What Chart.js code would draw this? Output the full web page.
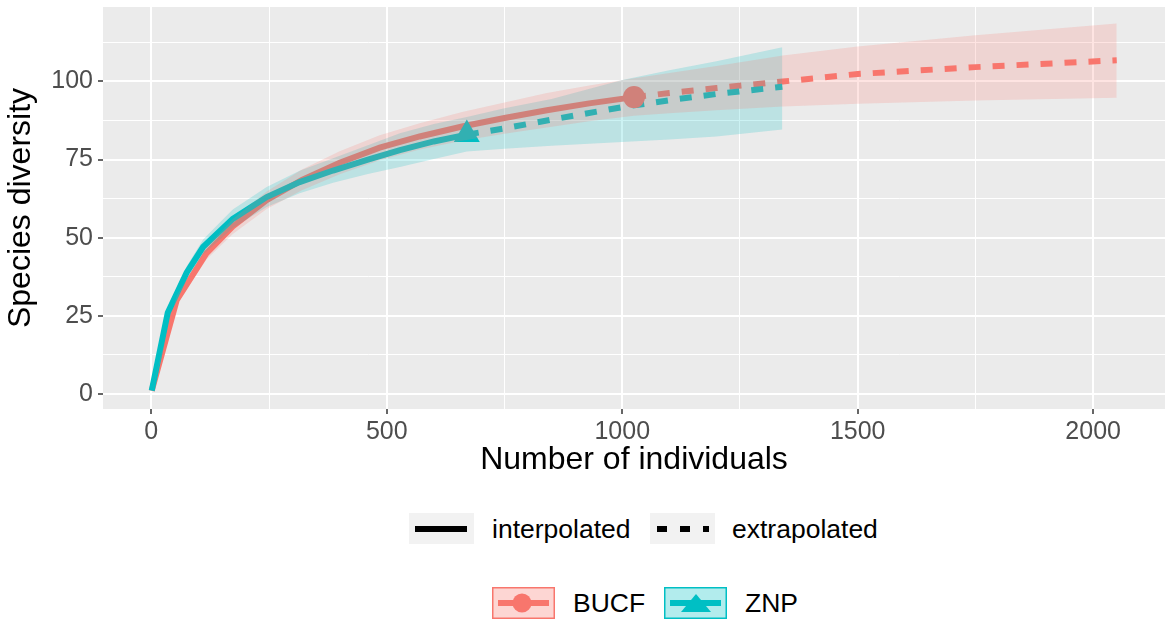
<!DOCTYPE html>
<html>
<head>
<meta charset="utf-8">
<script src="https://cdn.jsdelivr.net/npm/chart.js@4.4.1/dist/chart.umd.min.js"></script>
<style>
  body { margin: 0; background: #fff; font-family: "Liberation Sans", Arial, sans-serif; }
  #wrap { position: relative; width: 1167px; height: 622px; }
  #chart { position: absolute; left: 0; top: 0; }
  .key { position: absolute; box-sizing: border-box; }
  .lab { position: absolute; font-size: 26.5px; color: #000; line-height: 30px; white-space: nowrap; }
</style>
</head>
<body>
<div id="wrap">
  <canvas id="chart" width="1167" height="483"></canvas>

  <svg class="key" style="left:409px;top:513px" width="65" height="31">
    <rect x="0" y="0" width="65" height="31" fill="#f2f2f2"/>
    <line x1="6" y1="16" x2="58" y2="16" stroke="#000" stroke-width="6"/>
  </svg>
  <div class="lab" style="left:492px;top:514px">interpolated</div>
  <svg class="key" style="left:650px;top:513px" width="65" height="31">
    <rect x="0" y="0" width="65" height="31" fill="#f2f2f2"/>
    <line x1="7" y1="16" x2="59" y2="16" stroke="#000" stroke-width="6" stroke-dasharray="10 13"/>
  </svg>
  <div class="lab" style="left:732px;top:514px">extrapolated</div>

  <svg class="key" style="left:492px;top:587px" width="63" height="32">
    <rect x="0.75" y="0.75" width="61.5" height="30.5" fill="rgba(248,118,109,0.3)" stroke="#F8766D" stroke-width="1.5"/>
    <line x1="6" y1="16" x2="57" y2="16" stroke="#F8766D" stroke-width="6"/>
    <circle cx="30" cy="16" r="9.5" fill="#F8766D"/>
  </svg>
  <div class="lab" style="left:573px;top:588px">BUCF</div>
  <svg class="key" style="left:664px;top:587px" width="63" height="32">
    <rect x="0.75" y="0.75" width="61.5" height="30.5" fill="rgba(0,191,196,0.3)" stroke="#00BFC4" stroke-width="1.5"/>
    <line x1="6" y1="16" x2="57" y2="16" stroke="#00BFC4" stroke-width="6"/>
    <polygon points="32,7 47,25 17,25" fill="#00BFC4"/>
  </svg>
  <div class="lab" style="left:745px;top:588px">ZNP</div>
</div>

<script>
// BUCF – rarefaction (interpolated) and extrapolation
const bucfInterpX = [1, 54, 117, 173, 245, 320, 400, 485, 570, 660, 750, 840, 930, 1025];
const bucfInterpY = [1, 30, 45, 53.6, 62, 68.5, 74, 78.8, 82.4, 85.6, 88.3, 90.8, 93, 95];
const bucfExtrapX = [1025, 1100, 1200, 1341, 1500, 1750, 2050];
const bucfExtrapY = [95, 96.3, 97.9, 100, 102.4, 104.6, 106.8];
const bucfBandX = [1, 54, 117, 173, 245, 320, 400, 485, 570, 660, 750, 840, 930, 1025, 1100, 1200, 1341, 1500, 1750, 2050];
const bucfLower = [1, 28.6, 43, 51.2, 59.2, 65.2, 70.3, 74.8, 78.2, 81, 83.3, 85.3, 87.3, 89, 89.8, 90.8, 92, 92.9, 93.9, 94.8];
const bucfUpper = [1, 31.4, 47, 56, 64.8, 71.8, 77.7, 82.8, 86.6, 90.2, 93.3, 96.3, 98.7, 101, 102.7, 105, 108.3, 111.2, 114.8, 118.6];
const bucfObs = [1025, 95];

// ZNP
const znpInterpX = [1, 35, 75, 110, 173, 245, 315, 386, 460, 528, 600, 670];
const znpInterpY = [1, 26, 38.8, 47, 56, 63, 67.8, 71.5, 75, 78, 80.8, 83];
const znpExtrapX = [670, 750, 850, 1000, 1100, 1200, 1340];
const znpExtrapY = [83, 85, 87.8, 91.8, 94, 96, 98.3];
const znpBandX = [1, 35, 75, 110, 173, 245, 315, 386, 460, 528, 600, 670, 750, 850, 1000, 1100, 1200, 1340];
const znpLower = [1, 24.6, 36.8, 44.6, 53, 59.8, 64.2, 67.6, 70.4, 72.6, 75.2, 77.6, 78.5, 79.4, 80.6, 81.4, 82.4, 84.6];
const znpUpper = [1, 27.4, 40.8, 49.4, 59, 66.2, 71.4, 75.4, 79.6, 83.4, 86.4, 88.6, 91.4, 94.4, 100.5, 103.6, 106.5, 111];
const znpObs = [670, 83];

const xTicks = [0, 250, 500, 750, 1000, 1250, 1500, 1750, 2000];
const yTicks = [0, 12.5, 25, 37.5, 50, 62.5, 75, 87.5, 100, 112.5];

const RED = '#F8766D', CYAN = '#00BFC4';
const FONT = '"Liberation Sans", Arial, sans-serif';

const pts = (xs, ys) => xs.map((x, i) => ({x: x, y: ys[i]}));
const band = (data, fill, bg) => ({
  data: data, fill: fill, backgroundColor: bg, borderWidth: 0,
  pointRadius: 0, order: 0
});
const line = (data, color, dashed, order) => ({
  data: data, borderColor: color, borderWidth: 6, borderDash: dashed ? [12, 12] : [],
  borderCapStyle: 'butt', pointRadius: 0, fill: false, order: order
});
// no extra room for half tick labels at the panel edges
const noPad = ax => { ax.paddingLeft = 0; ax.paddingRight = 0; ax.paddingTop = 0; ax.paddingBottom = 0; };

const panelBg = {
  id: 'panelBg',
  beforeDraw(chart) {
    const a = chart.chartArea, c = chart.ctx;
    c.save();
    c.fillStyle = '#EBEBEB';
    c.fillRect(a.left, a.top, a.right - a.left, a.bottom - a.top);
    c.restore();
  }
};

new Chart(document.getElementById('chart'), {
  type: 'line',
  data: {
    datasets: [
      band(pts(bucfBandX, bucfUpper), false, 'transparent'),
      band(pts(bucfBandX, bucfLower), '-1', 'rgba(248,118,109,0.2)'),
      band(pts(znpBandX, znpUpper), false, 'transparent'),
      band(pts(znpBandX, znpLower), '-1', 'rgba(0,191,196,0.2)'),
      line(pts(znpInterpX, znpInterpY), CYAN, false, 2),
      line(pts(znpExtrapX, znpExtrapY), CYAN, true, 2),
      line(pts(bucfInterpX, bucfInterpY), RED, false, 3),
      line(pts(bucfExtrapX, bucfExtrapY), RED, true, 3),
      {data: [{x: bucfObs[0], y: bucfObs[1]}], showLine: false, pointStyle: 'circle',
       pointRadius: 11, backgroundColor: RED, borderWidth: 0, order: 1},
      {data: [{x: znpObs[0], y: znpObs[1]}], showLine: false, pointStyle: 'triangle',
       pointRadius: 15, backgroundColor: CYAN, borderWidth: 0, order: 1}
    ]
  },
  options: {
    responsive: false,
    animation: false,
    devicePixelRatio: 1,
    layout: {autoPadding: false, padding: {top: 7, right: 2, left: 0, bottom: 0}},
    plugins: {legend: {display: false}, tooltip: {enabled: false}},
    elements: {line: {tension: 0}},
    scales: {
      x: {
        type: 'linear', min: -102.5, max: 2152.5,
        afterBuildTicks: ax => { ax.ticks = xTicks.map(v => ({value: v})); },
        afterFit: ax => { ax.height = 74; noPad(ax); },
        border: {display: false},
        grid: {
          color: '#fff',
          lineWidth: c => (c.tick && c.tick.value % 500 === 0) ? 2 : 1,
          tickColor: c => (c.tick && c.tick.value % 500 === 0) ? '#333' : 'rgba(0,0,0,0)',
          tickWidth: 1.5, tickLength: 5
        },
        ticks: {
          autoSkip: false, maxRotation: 0, padding: 3, color: '#4D4D4D',
          font: {family: FONT, size: 25},
          callback: v => v % 500 === 0 ? v : ''
        },
        title: {display: true, text: 'Number of individuals', color: '#000',
                font: {family: FONT, size: 32}, padding: {top: 0, bottom: 4}}
      },
      y: {
        type: 'linear', min: -4.85, max: 123.85,
        afterBuildTicks: ax => { ax.ticks = yTicks.map(v => ({value: v})); },
        afterFit: ax => { ax.width = 103; noPad(ax); },
        border: {display: false},
        grid: {
          color: '#fff',
          lineWidth: c => (c.tick && c.tick.value % 25 === 0) ? 2 : 1,
          tickColor: c => (c.tick && c.tick.value % 25 === 0) ? '#333' : 'rgba(0,0,0,0)',
          tickWidth: 1.5, tickLength: 5
        },
        ticks: {
          autoSkip: false, padding: 5, color: '#4D4D4D',
          font: {family: FONT, size: 25},
          callback: v => v % 25 === 0 ? v : ''
        },
        title: {display: true, text: 'Species diversity', color: '#000',
                font: {family: FONT, size: 32}, padding: {top: 2, bottom: 0}}
      }
    }
  },
  plugins: [panelBg]
});
</script>
</body>
</html>
